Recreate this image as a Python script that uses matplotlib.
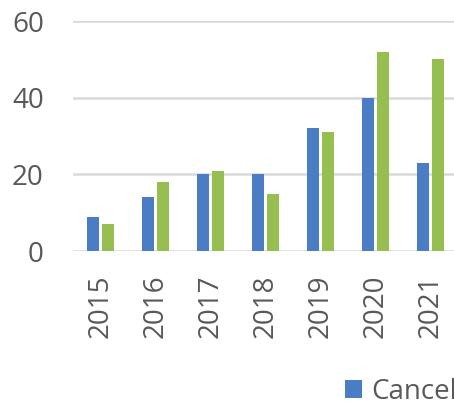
import matplotlib
matplotlib.use("Agg")
from matplotlib import pyplot as plt
import numpy as np

years = ["2015", "2016", "2017", "2018", "2019", "2020", "2021"]
cancelled = [9, 14, 20, 20, 32, 40, 23]
other = [7, 18, 21, 15, 31, 52, 50]
yticks = [0, 20, 40, 60]

blue = "#4A7DC4"
green = "#96BE50"
text_color = "#595959"

plt.rcParams["font.family"] = ["Open Sans", "DejaVu Sans"]

fig = plt.figure(figsize=(4.54, 4.08), dpi=100)
ax = fig.add_axes([73 / 454, 157 / 408, 385 / 454, 230 / 408])

x = np.arange(len(years))
w = 0.22
ax.bar(x - 0.14, cancelled, w, color=blue, label="Cancelled", zorder=3)
ax.bar(x + 0.14, other, w, color=green, zorder=3)

ax.set_xlim(-0.5, len(years) - 0.5)
ax.set_ylim(0, 60)
ax.set_yticks(yticks)
ax.set_xticks(x)
ax.set_xticklabels(years, rotation=90)
ax.yaxis.grid(True, color="#D9D9D9", linewidth=1.8, zorder=0)
ax.set_axisbelow(True)
for s in ax.spines.values():
    s.set_visible(False)
ax.tick_params(axis="y", length=0, pad=21, labelsize=20, labelcolor=text_color)
ax.tick_params(axis="x", length=0, pad=17, labelsize=20, labelcolor=text_color)

fig.legend(handles=[ax.patches[0]], labels=["Cancelled"], loc="center left",
           bbox_to_anchor=(345 / 454, 16 / 408), frameon=False, fontsize=20,
           handlelength=0.6, handleheight=0.6, handletextpad=0.35,
           borderpad=0, borderaxespad=0, labelcolor=text_color)

fig.savefig("out.png", dpi=100)
